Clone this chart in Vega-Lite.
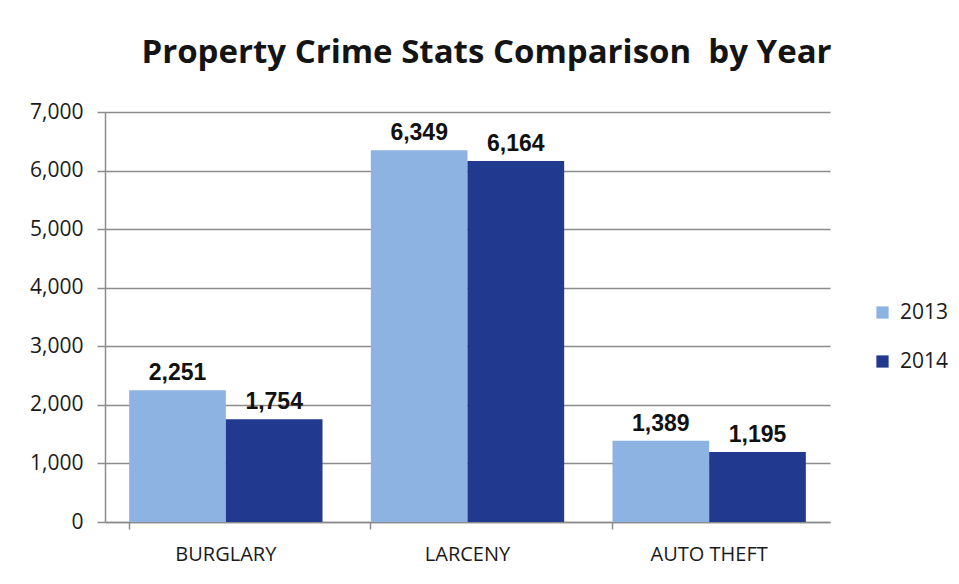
{
  "$schema": "https://vega.github.io/schema/vega-lite/v6.json",
  "width": 725,
  "height": 410,
  "autosize": {"type": "none"},
  "padding": {"left": 105, "top": 112, "right": 129, "bottom": 62},
  "background": "white",
  "title": {
    "text": "Property Crime Stats Comparison\u00a0 by Year",
    "font": "Open Sans",
    "fontSize": 33,
    "fontWeight": "bold",
    "color": "#141414",
    "anchor": "middle",
    "frame": "group",
    "dx": 19,
    "baseline": "alphabetic",
    "offset": 5
  },
  "data": {
    "values": [
      {"category": "BURGLARY", "year": "2013", "value": 2251},
      {"category": "BURGLARY", "year": "2014", "value": 1754},
      {"category": "LARCENY", "year": "2013", "value": 6349},
      {"category": "LARCENY", "year": "2014", "value": 6164},
      {"category": "AUTO THEFT", "year": "2013", "value": 1389},
      {"category": "AUTO THEFT", "year": "2014", "value": 1195}
    ]
  },
  "encoding": {
    "x": {
      "field": "category",
      "type": "nominal",
      "sort": ["BURGLARY", "LARCENY", "AUTO THEFT"],
      "scale": {"paddingInner": 0.2, "paddingOuter": 0.1},
      "axis": {
        "title": null,
        "labelAngle": 0,
        "bandPosition": 0,
        "labelFont": "Open Sans",
        "labelFontSize": 20,
        "labelColor": "#1a1a1a",
        "labelPadding": 15,
        "tickSize": 7,
        "tickColor": "#8c8c8c",
        "tickWidth": 1.5,
        "domainColor": "#8c8c8c",
        "domainWidth": 1.5,
        "grid": false
      }
    },
    "xOffset": {"field": "year", "type": "nominal", "scale": {"paddingInner": 0, "paddingOuter": 0}},
    "y": {
      "field": "value",
      "type": "quantitative",
      "scale": {"domain": [0, 7000], "nice": false},
      "axis": {
        "title": null,
        "values": [0, 1000, 2000, 3000, 4000, 5000, 6000, 7000],
        "format": ",d",
        "labelFont": "Open Sans",
        "labelFontSize": 21,
        "labelColor": "#1a1a1a",
        "labelPadding": 14,
        "tickSize": 8,
        "tickColor": "#8c8c8c",
        "tickWidth": 1.5,
        "domainColor": "#8c8c8c",
        "domainWidth": 1.5,
        "grid": true,
        "gridColor": "#8c8c8c",
        "gridWidth": 1.5
      }
    }
  },
  "layer": [
    {
      "mark": {"type": "bar"},
      "encoding": {
        "color": {
          "field": "year",
          "type": "nominal",
          "scale": {"domain": ["2013", "2014"], "range": ["#8db3e2", "#213a8f"]},
          "legend": {
            "title": null,
            "orient": "none",
            "legendX": 767,
            "legendY": 190,
            "symbolType": "square",
            "symbolSize": 150,
            "symbolStrokeWidth": 0,
            "labelFont": "Open Sans",
            "labelFontSize": 21,
            "labelColor": "#1a1a1a",
            "labelOffset": 7,
            "rowPadding": 27
          }
        }
      }
    },
    {
      "mark": {
        "type": "text",
        "font": "Liberation Sans",
        "fontWeight": "bold",
        "fontSize": 23,
        "color": "#111111",
        "baseline": "alphabetic",
        "dy": -10
      },
      "encoding": {
        "text": {"field": "value", "type": "quantitative", "format": ","}
      }
    }
  ],
  "config": {"view": {"stroke": null}}
}
